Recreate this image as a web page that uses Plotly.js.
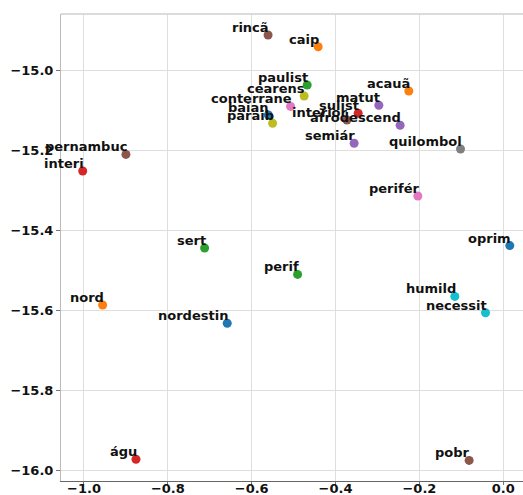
<!DOCTYPE html>
<html>
<head>
<meta charset="utf-8">
<script src="https://cdn.plot.ly/plotly-3.0.1.min.js"></script>
<style>html,body{margin:0;padding:0;background:#fff;}#chart{width:523px;height:495px;}</style>
</head>
<body>
<div id="chart"></div>
<script>
const words = ['rincã','caip','paulist','cearens','conterrane','baian','paraib','interior','sulist','matut','acauã','afrodescend','semiár','quilombol','pernambuc','interi','perifér','sert','perif','oprim','humild','necessit','nord','nordestin','águ','pobr'];
const xs = [-0.561,-0.4415,-0.4677,-0.4749,-0.5073,-0.5602,-0.5502,-0.373,-0.3461,-0.2968,-0.2253,-0.246,-0.3557,-0.102,-0.900,-1.003,-0.2038,-0.7123,-0.4906,0.0155,-0.1156,-0.0424,-0.9555,-0.6584,-0.876,-0.0815];
const ys = [-14.9125,-14.942,-15.0375,-15.065,-15.091,-15.1125,-15.133,-15.125,-15.108,-15.088,-15.0525,-15.138,-15.183,-15.1975,-15.211,-15.2525,-15.315,-15.445,-15.511,-15.439,-15.566,-15.607,-15.5875,-15.633,-15.973,-15.976];
const colors = ['#8c564b','#ff7f0e','#2ca02c','#bcbd22','#e377c2','#1f77b4','#bcbd22','#8c564b','#d62728','#9467bd','#ff7f0e','#9467bd','#9467bd','#7f7f7f','#8c564b','#d62728','#e377c2','#2ca02c','#2ca02c','#1f77b4','#17becf','#17becf','#ff7f0e','#1f77b4','#d62728','#8c564b'];
const xTicks = [-1.0,-0.8,-0.6,-0.4,-0.2,0.0];
const yTicks = [-16.0,-15.8,-15.6,-15.4,-15.2,-15.0];

const fmt = v => '<b>' + (v < 0 ? '\u2212' : '') + Math.abs(v).toFixed(1) + '</b>';
const font = {family:'DejaVu Sans', size:13, color:'#111'};

const trace = {x: xs, y: ys, type:'scatter', mode:'markers', marker:{color: colors, size:9}, hoverinfo:'skip'};

const annotations = words.map((w,i)=>({
  x: xs[i], y: ys[i], text: '<b>' + w + '</b>', xref:'x', yref:'y',
  xanchor:'right', yanchor:'bottom', showarrow:false,
  xshift:3, yshift:-2, font: font
}));

const axisBase = {
  showgrid:true, gridcolor:'#dedede', gridwidth:1, zeroline:false,
  showline:true, ticks:'outside', ticklen:4, tickcolor:'#777',
  tickfont: font, automargin:false, fixedrange:true
};

const layout = {
  width:523, height:495,
  margin:{l:61, r:0, t:14, b:14},
  paper_bgcolor:'#fff', plot_bgcolor:'#fff',
  showlegend:false,
  xaxis: Object.assign({}, axisBase, {range:[-1.0548, 0.047], tickvals:xTicks, ticktext:xTicks.map(fmt), linecolor:'#666', ticklen:3, ticklabelstandoff:-8}),
  yaxis: Object.assign({}, axisBase, {range:[-16.0275, -14.86], tickvals:yTicks, ticktext:yTicks.map(fmt), linecolor:'#bbb'}),
  annotations: annotations,
  shapes:[{type:'line', xref:'paper', yref:'paper', x0:0, x1:1, y0:1, y1:1, line:{color:'#cfcfcf', width:1.5}}]
};

Plotly.newPlot('chart', [trace], layout, {displayModeBar:false, staticPlot:true});
</script>
</body>
</html>
